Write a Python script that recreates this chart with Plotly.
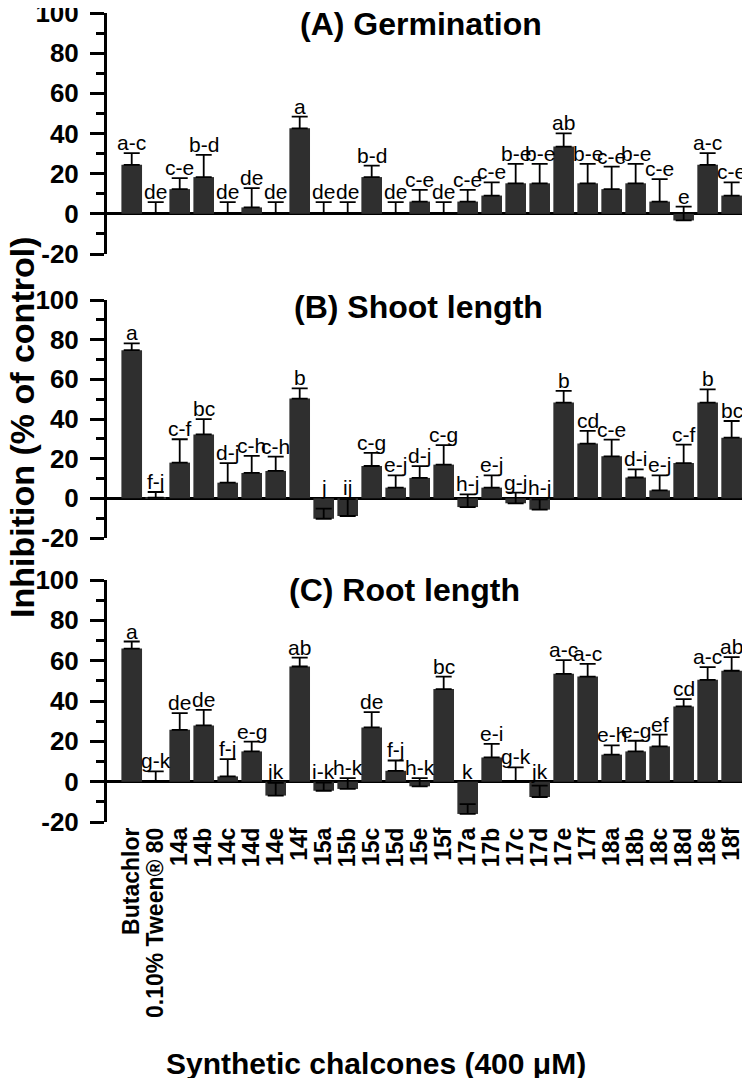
import plotly.graph_objects as go

categories = ["Butachlor", "0.10% Tween® 80", "14a", "14b", "14c", "14d", "14e", "14f",
              "15a", "15b", "15c", "15d", "15e", "15f",
              "17a", "17b", "17c", "17d", "17e", "17f",
              "18a", "18b", "18c", "18d", "18e", "18f"]

# (A) Germination
germ_vals = [24.4, 0, 12.3, 18.3, 0, 3.2, 0, 42.6, 0, 0, 18.3, 0, 6.1, 0,
             6.1, 9.1, 15.2, 15.2, 33.5, 15.2, 12.3, 15.2, 6.1, -3.3, 24.4, 9.1]
germ_err = [5.8, 5.8, 5.5, 11.1, 5.8, 9.6, 5.8, 5.8, 5.8, 5.8, 5.7, 5.8, 5.8, 5.8,
            5.8, 6.6, 9.7, 9.7, 6.6, 9.7, 11.2, 9.7, 11.2, 6.9, 5.8, 6.6]
germ_lbl = ["a-c", "de", "c-e", "b-d", "de", "de", "de", "a", "de", "de", "b-d", "de", "c-e", "de",
            "c-e", "c-e", "b-e", "b-e", "ab", "b-e", "c-e", "b-e", "c-e", "e", "a-c", "c-e"]

# (B) Shoot length
shoot_vals = [74.7, 0.3, 18.0, 32.2, 7.9, 12.8, 13.8, 50.3, -10.3, -8.9, 16.3, 5.4, 10.3, 17.0,
              -4.4, 5.4, -2.5, -5.7, 48.3, 27.6, 21.2, 10.5, 4.0, 17.8, 48.3, 30.6]
shoot_err = [3.4, 2.9, 11.8, 7.7, 9.9, 8.6, 7.2, 5.1, 5.1, 8.5, 6.6, 6.2, 5.9, 9.8,
             6.4, 6.2, 5.4, 5.2, 5.9, 6.4, 8.4, 4.1, 7.6, 9.3, 6.6, 8.4]
shoot_lbl = ["a", "f-j", "c-f", "bc", "d-j", "c-h", "c-h", "b", "j", "ij", "c-g", "e-j", "d-j", "c-g",
             "h-j", "e-j", "g-j", "h-j", "b", "cd", "c-e", "d-i", "e-j", "c-f", "b", "bc"]

# (C) Root length
root_vals = [66.0, 0, 25.7, 27.9, 2.6, 15.0, -6.9, 57.1, -4.5, -3.6, 26.9, 5.4, -2.3, 45.9,
             -16.0, 12.0, 0, -7.6, 53.5, 52.1, 13.4, 15.0, 17.5, 37.3, 50.5, 55.0]
root_err = [3.5, 5.1, 8.3, 7.7, 8.6, 4.9, 6.3, 4.4, 4.0, 5.4, 7.6, 5.1, 4.1, 6.2,
            4.9, 6.7, 7.1, 5.6, 6.8, 6.3, 4.6, 5.3, 5.8, 3.6, 6.3, 6.8]
root_lbl = ["a", "g-k", "de", "de", "f-j", "e-g", "jk", "ab", "i-k", "h-k", "de", "f-j", "h-k", "bc",
            "k", "e-i", "g-k", "jk", "a-c", "a-c", "e-h", "e-g", "ef", "cd", "a-c", "ab"]

panel_titles = ["(A) Germination", "(B) Shoot length", "(C) Root length"]
y_ticks = [-20, 0, 20, 40, 60, 80, 100]
y_tick_text = ["-20", "0", "20", "40", "60", "80", "100"]

# The page body has an 8 px margin; size the figure so it fills the 750x1078 window.
OFF = 8
W, H = 750 - OFF, 1078 - OFF
FONT = "Liberation Sans, Arial, sans-serif"
BAR = "#2f2f2f"


def px_x(X):
    return (X - OFF) / W


def px_y(Y):
    return 1 - (Y - OFF) / H


x_dom = [px_x(107), px_x(747)]
# page-pixel tops / bottoms of each panel (100 .. -20)
panel_px = [(13, 254), (300, 538), (580, 822)]
title_pos = [(421, 24), (418, 307), (405, 590)]

fig = go.Figure()
data = [(germ_vals, germ_err, germ_lbl), (shoot_vals, shoot_err, shoot_lbl), (root_vals, root_err, root_lbl)]
annotations = []
for i, (vals, err, lbl) in enumerate(data):
    n = "" if i == 0 else str(i + 1)
    xa, ya = "x" + n, "y" + n
    fig.add_trace(go.Bar(
        x=categories, y=vals, xaxis=xa, yaxis=ya, width=0.86,
        marker=dict(color=BAR, line=dict(width=0)),
        error_y=dict(type="data", symmetric=False, array=err, arrayminus=[0] * len(err),
                     color="black", thickness=1.8, width=8),
        showlegend=False, hoverinfo="skip",
    ))
    for c, v, e, t in zip(categories, vals, err, lbl):
        annotations.append(dict(
            x=c, y=max(v + e, 0), xref=xa, yref=ya, text=t, showarrow=False,
            yanchor="bottom", xanchor="center", yshift=-3,
            font=dict(family=FONT, size=21, color="black"),
        ))
    top, bot = panel_px[i]
    layout_x = dict(domain=x_dom, anchor=ya, type="category", range=[-1.03, 25.64],
                    tickmode="array", tickvals=categories, ticktext=categories,
                    showline=False, showgrid=False, zeroline=False, ticks="",
                    showticklabels=(i == 2), tickangle=-90, automargin=False,
                    tickfont=dict(family=FONT, size=23, color="black", weight="bold"))
    layout_y = dict(domain=[px_y(bot), px_y(top)], anchor=xa, range=[-20, 100],
                    tickmode="array", tickvals=y_ticks, ticktext=y_tick_text,
                    ticks="outside", ticklen=14, tickwidth=3, tickcolor="black",
                    minor=dict(dtick=10, ticks="outside", ticklen=8, tickwidth=3, tickcolor="black"),
                    showline=True, linewidth=3, linecolor="black",
                    zeroline=True, zerolinewidth=3, zerolinecolor="black",
                    showgrid=False, ticklabelstandoff=6, automargin=False,
                    ticklabeloverflow="allow",
                    tickfont=dict(family=FONT, size=26, color="black", weight="bold"))
    fig.layout["xaxis" + n] = layout_x
    fig.layout["yaxis" + n] = layout_y
    tx, ty = title_pos[i]
    annotations.append(dict(
        x=px_x(tx), y=px_y(ty), xref="paper", yref="paper", text=panel_titles[i],
        showarrow=False, xanchor="center", yanchor="middle",
        font=dict(family=FONT, size=32, color="black", weight="bold"),
    ))

annotations.append(dict(
    x=px_x(22), y=px_y(428), xref="paper", yref="paper", text="Inhibition (% of control)",
    showarrow=False, textangle=-90, xanchor="center", yanchor="middle",
    font=dict(family=FONT, size=34, color="black", weight="bold"),
))
annotations.append(dict(
    x=px_x(376), y=px_y(1063), xref="paper", yref="paper", text="Synthetic chalcones (400 μM)",
    showarrow=False, xanchor="center", yanchor="middle",
    font=dict(family=FONT, size=30, color="black", weight="bold"),
))

fig.update_layout(
    width=W, height=H, margin=dict(l=0, r=0, t=0, b=0),
    paper_bgcolor="white", plot_bgcolor="white",
    annotations=annotations, bargap=0.14,
)

fig.write_html("out.html")
